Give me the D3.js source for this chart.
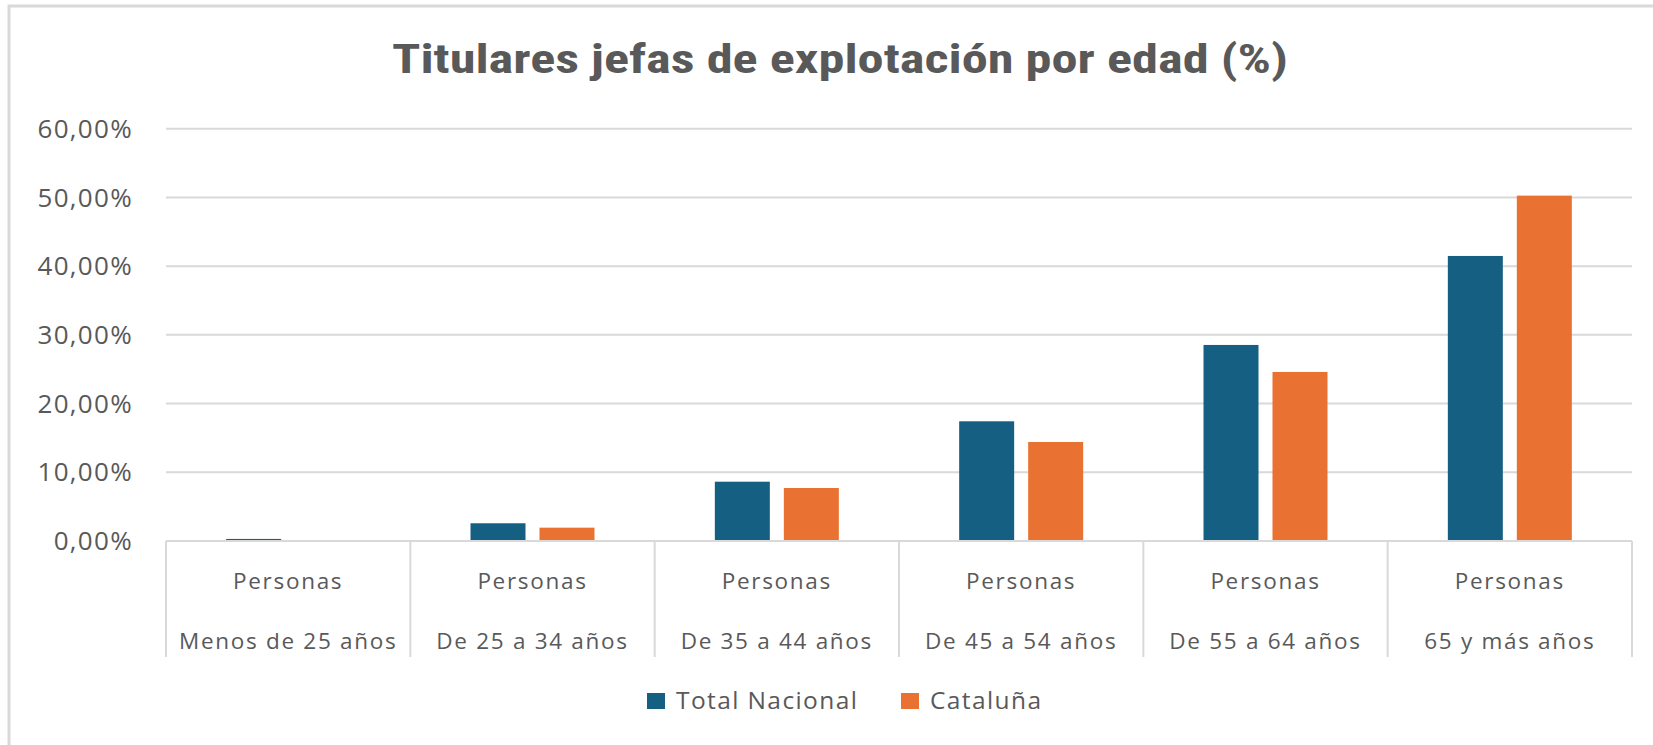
<!DOCTYPE html>
<html>
<head>
<meta charset="utf-8">
<script src="https://cdn.jsdelivr.net/npm/d3@7"></script>
<style>
  body { margin: 0; background: #ffffff; }
  svg { display: block; }
</style>
</head>
<body>
<svg id="chart" width="1653" height="745"></svg>
<script>
// chart values
var groupTop = ["Personas", "Personas", "Personas", "Personas", "Personas", "Personas"];
var groupAge = ["Menos de 25 años", "De 25 a 34 años", "De 35 a 44 años", "De 45 a 54 años", "De 55 a 64 años", "65 y más años"];
var seriesNames = ["Total Nacional", "Cataluña"];
var totalNacional = [0.30, 2.58, 8.63, 17.42, 28.53, 41.48];
var cataluna = [0.00, 1.94, 7.71, 14.41, 24.60, 50.26];
var yTicks = [0, 10, 20, 30, 40, 50, 60];

const TITLE = "Titulares jefas de explotación por edad (%)";
const COLORS = ["#156082", "#E97132"];
const TEXTCOLOR = "#595959";
const GRIDCOLOR = "#D9D9D9";
const FONT = "'Open Sans', 'Liberation Sans', sans-serif";

var svg = d3.select("#chart");

// build rows for the grouped bars
var rows = groupAge.map(function(age, i) {
  return { key: age, top: groupTop[i], values: [totalNacional[i], cataluna[i]] };
});

// outer frame of the chart object (only left and top edges show)
svg.append("rect")
  .attr("x", 9).attr("y", 6)
  .attr("width", 1700).attr("height", 800)
  .attr("fill", "none")
  .attr("stroke", GRIDCOLOR)
  .attr("stroke-width", 3);

var plot = { left: 166, right: 1632, top: 128.7, bottom: 541 };

var x0 = d3.scaleBand()
  .domain(groupAge)
  .range([plot.left, plot.right])
  .padding(0);

var x1 = d3.scaleBand()
  .domain(seriesNames)
  .range([0, x0.bandwidth()])
  .paddingInner(0.203)
  .paddingOuter(0.872);

var y = d3.scaleLinear()
  .domain([0, 60])
  .range([plot.bottom, plot.top]);

// horizontal gridlines
svg.append("g")
  .selectAll("line")
  .data(yTicks.filter(function(d) { return d > 0; }))
  .enter().append("line")
    .attr("x1", plot.left).attr("x2", plot.right)
    .attr("y1", function(d) { return y(d); })
    .attr("y2", function(d) { return y(d); })
    .attr("stroke", GRIDCOLOR)
    .attr("stroke-width", 2);

// y axis labels, spanish number format
var fmt = function(d) { return d3.format(".2f")(d).replace(".", ",") + "%"; };
svg.append("g")
  .selectAll("text")
  .data(yTicks)
  .enter().append("text")
    .attr("x", 133)
    .attr("y", function(d) { return y(d); })
    .attr("dy", "0.35em")
    .attr("text-anchor", "end")
    .attr("font-family", FONT)
    .attr("font-size", 26)
    .attr("letter-spacing", 1.3)
    .attr("fill", TEXTCOLOR)
    .text(fmt);

// bars
var groups = svg.append("g")
  .selectAll("g")
  .data(rows)
  .enter().append("g")
    .attr("transform", function(d) { return "translate(" + x0(d.key) + ",0)"; });

groups.selectAll("rect")
  .data(function(d) { return d.values.map(function(v, i) { return { name: seriesNames[i], value: v, i: i }; }); })
  .enter().append("rect")
    .attr("x", function(d) { return x1(d.name); })
    .attr("y", function(d) { return y(d.value); })
    .attr("width", x1.bandwidth())
    .attr("height", function(d) { return y(0) - y(d.value); })
    .attr("fill", function(d) { return COLORS[d.i]; });

// category axis: baseline plus dividers between groups
var axis = svg.append("g");
axis.append("line")
  .attr("x1", plot.left).attr("x2", plot.right)
  .attr("y1", y(0)).attr("y2", y(0))
  .attr("stroke", GRIDCOLOR)
  .attr("stroke-width", 2);

var edges = groupAge.map(function(d) { return x0(d); }).concat([plot.right]);
axis.selectAll("line.divider")
  .data(edges)
  .enter().append("line")
    .attr("class", "divider")
    .attr("x1", function(d) { return d; }).attr("x2", function(d) { return d; })
    .attr("y1", y(0)).attr("y2", 657)
    .attr("stroke", GRIDCOLOR)
    .attr("stroke-width", 2);

// two level category labels
var labels = axis.selectAll("g.cat")
  .data(rows)
  .enter().append("g")
    .attr("class", "cat")
    .attr("transform", function(d) { return "translate(" + (x0(d.key) + x0.bandwidth() / 2) + ",0)"; });

labels.append("text")
  .attr("y", 589)
  .text(function(d) { return d.top; });
labels.append("text")
  .attr("y", 649)
  .text(function(d) { return d.key; });
labels.selectAll("text")
  .attr("text-anchor", "middle")
  .attr("font-family", FONT)
  .attr("font-size", 22.5)
  .attr("letter-spacing", 1.7)
  .attr("fill", TEXTCOLOR);

// title
svg.append("text")
  .attr("x", 840)
  .attr("y", 73)
  .attr("text-anchor", "middle")
  .attr("font-family", "'Liberation Sans Narrow', 'Roboto Condensed', Roboto, sans-serif")
  .attr("font-weight", "bold")
  .attr("font-size", 40)
  .attr("textLength", 896)
  .attr("lengthAdjust", "spacingAndGlyphs")
  .attr("fill", TEXTCOLOR)
  .text(TITLE);

// legend
var legendX = [647, 901];
var legend = svg.append("g")
  .selectAll("g")
  .data(seriesNames)
  .enter().append("g")
    .attr("transform", function(d, i) { return "translate(" + legendX[i] + ",693)"; });

legend.append("rect")
  .attr("width", 18).attr("height", 16)
  .attr("fill", function(d, i) { return COLORS[i]; });

legend.append("text")
  .attr("x", 29)
  .attr("y", 16)
  .attr("font-family", FONT)
  .attr("font-size", 24.5)
  .attr("letter-spacing", 1.4)
  .attr("fill", TEXTCOLOR)
  .text(function(d) { return d; });
</script>
</body>
</html>
